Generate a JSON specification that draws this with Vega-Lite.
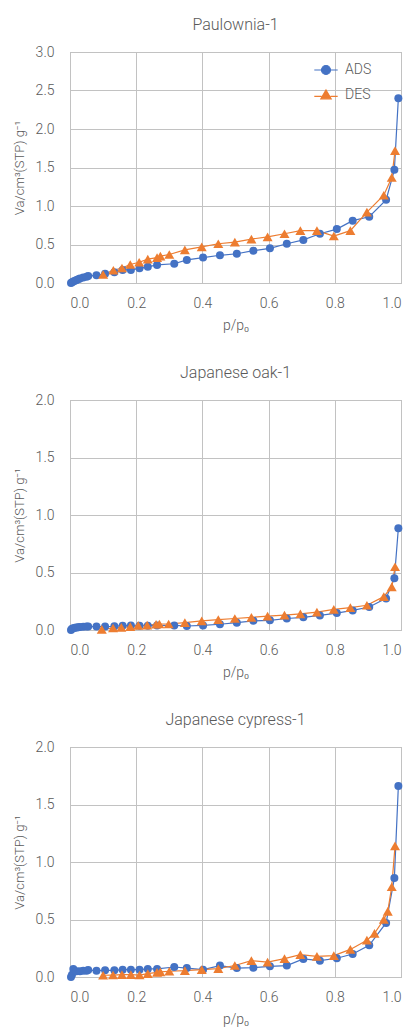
{
  "$schema": "https://vega.github.io/schema/vega-lite/v6.json",
  "padding": {"left": 12, "top": 16, "right": 0, "bottom": 0},
  "spacing": 31,
  "config": {
    "font": "Roboto",
    "view": {"stroke": "#a6a6a6", "strokeWidth": 1},
    "axis": {"grid": true, "gridColor": "#c2c2c2", "gridWidth": 1, "domain": false, "ticks": false, "labelFont": "Roboto", "labelFontSize": 14, "labelFontWeight": 300, "labelColor": "#595959", "titleFont": "Roboto", "titleFontSize": 13, "titleFontWeight": 300, "titleColor": "#595959"},
    "axisX": {"labelPadding": 13, "titlePadding": 8, "titleFontSize": 14},
    "axisY": {"labelPadding": 16, "titlePadding": 9},
    "title": {"fontSize": 16, "fontWeight": 300, "color": "#595959", "font": "Roboto", "offset": 12}
  },
  "datasets": {
    "iso": [
      {"sample": "Paulownia-1", "series": "ADS", "p": 0.003, "v": 0.0},
      {"sample": "Paulownia-1", "series": "ADS", "p": 0.006, "v": 0.01},
      {"sample": "Paulownia-1", "series": "ADS", "p": 0.01, "v": 0.02},
      {"sample": "Paulownia-1", "series": "ADS", "p": 0.015, "v": 0.03},
      {"sample": "Paulownia-1", "series": "ADS", "p": 0.02, "v": 0.04},
      {"sample": "Paulownia-1", "series": "ADS", "p": 0.025, "v": 0.05},
      {"sample": "Paulownia-1", "series": "ADS", "p": 0.03, "v": 0.06},
      {"sample": "Paulownia-1", "series": "ADS", "p": 0.04, "v": 0.07},
      {"sample": "Paulownia-1", "series": "ADS", "p": 0.05, "v": 0.08},
      {"sample": "Paulownia-1", "series": "ADS", "p": 0.055, "v": 0.09},
      {"sample": "Paulownia-1", "series": "ADS", "p": 0.08, "v": 0.1},
      {"sample": "Paulownia-1", "series": "ADS", "p": 0.106, "v": 0.12},
      {"sample": "Paulownia-1", "series": "ADS", "p": 0.134, "v": 0.14},
      {"sample": "Paulownia-1", "series": "ADS", "p": 0.159, "v": 0.17},
      {"sample": "Paulownia-1", "series": "ADS", "p": 0.184, "v": 0.17},
      {"sample": "Paulownia-1", "series": "ADS", "p": 0.21, "v": 0.19},
      {"sample": "Paulownia-1", "series": "ADS", "p": 0.235, "v": 0.21},
      {"sample": "Paulownia-1", "series": "ADS", "p": 0.263, "v": 0.235},
      {"sample": "Paulownia-1", "series": "ADS", "p": 0.315, "v": 0.25},
      {"sample": "Paulownia-1", "series": "ADS", "p": 0.353, "v": 0.3},
      {"sample": "Paulownia-1", "series": "ADS", "p": 0.402, "v": 0.33},
      {"sample": "Paulownia-1", "series": "ADS", "p": 0.453, "v": 0.36},
      {"sample": "Paulownia-1", "series": "ADS", "p": 0.504, "v": 0.38},
      {"sample": "Paulownia-1", "series": "ADS", "p": 0.554, "v": 0.42},
      {"sample": "Paulownia-1", "series": "ADS", "p": 0.604, "v": 0.45},
      {"sample": "Paulownia-1", "series": "ADS", "p": 0.655, "v": 0.51},
      {"sample": "Paulownia-1", "series": "ADS", "p": 0.705, "v": 0.56},
      {"sample": "Paulownia-1", "series": "ADS", "p": 0.755, "v": 0.64},
      {"sample": "Paulownia-1", "series": "ADS", "p": 0.806, "v": 0.7},
      {"sample": "Paulownia-1", "series": "ADS", "p": 0.854, "v": 0.81},
      {"sample": "Paulownia-1", "series": "ADS", "p": 0.904, "v": 0.86},
      {"sample": "Paulownia-1", "series": "ADS", "p": 0.955, "v": 1.08},
      {"sample": "Paulownia-1", "series": "ADS", "p": 0.98, "v": 1.47},
      {"sample": "Paulownia-1", "series": "ADS", "p": 0.992, "v": 2.4},
      {"sample": "Paulownia-1", "series": "DES", "p": 0.1, "v": 0.11},
      {"sample": "Paulownia-1", "series": "DES", "p": 0.131, "v": 0.165},
      {"sample": "Paulownia-1", "series": "DES", "p": 0.157, "v": 0.195},
      {"sample": "Paulownia-1", "series": "DES", "p": 0.182, "v": 0.24},
      {"sample": "Paulownia-1", "series": "DES", "p": 0.209, "v": 0.27},
      {"sample": "Paulownia-1", "series": "DES", "p": 0.235, "v": 0.31},
      {"sample": "Paulownia-1", "series": "DES", "p": 0.263, "v": 0.33},
      {"sample": "Paulownia-1", "series": "DES", "p": 0.273, "v": 0.35},
      {"sample": "Paulownia-1", "series": "DES", "p": 0.3, "v": 0.37},
      {"sample": "Paulownia-1", "series": "DES", "p": 0.347, "v": 0.43},
      {"sample": "Paulownia-1", "series": "DES", "p": 0.398, "v": 0.47},
      {"sample": "Paulownia-1", "series": "DES", "p": 0.448, "v": 0.51},
      {"sample": "Paulownia-1", "series": "DES", "p": 0.498, "v": 0.53},
      {"sample": "Paulownia-1", "series": "DES", "p": 0.548, "v": 0.57},
      {"sample": "Paulownia-1", "series": "DES", "p": 0.597, "v": 0.6},
      {"sample": "Paulownia-1", "series": "DES", "p": 0.648, "v": 0.64},
      {"sample": "Paulownia-1", "series": "DES", "p": 0.696, "v": 0.68},
      {"sample": "Paulownia-1", "series": "DES", "p": 0.746, "v": 0.68},
      {"sample": "Paulownia-1", "series": "DES", "p": 0.797, "v": 0.61},
      {"sample": "Paulownia-1", "series": "DES", "p": 0.847, "v": 0.68},
      {"sample": "Paulownia-1", "series": "DES", "p": 0.897, "v": 0.92},
      {"sample": "Paulownia-1", "series": "DES", "p": 0.948, "v": 1.14},
      {"sample": "Paulownia-1", "series": "DES", "p": 0.972, "v": 1.37},
      {"sample": "Paulownia-1", "series": "DES", "p": 0.982, "v": 1.72},

      {"sample": "Japanese oak-1", "series": "ADS", "p": 0.003, "v": 0.0},
      {"sample": "Japanese oak-1", "series": "ADS", "p": 0.006, "v": 0.01},
      {"sample": "Japanese oak-1", "series": "ADS", "p": 0.01, "v": 0.015},
      {"sample": "Japanese oak-1", "series": "ADS", "p": 0.015, "v": 0.02},
      {"sample": "Japanese oak-1", "series": "ADS", "p": 0.02, "v": 0.022},
      {"sample": "Japanese oak-1", "series": "ADS", "p": 0.025, "v": 0.025},
      {"sample": "Japanese oak-1", "series": "ADS", "p": 0.03, "v": 0.027},
      {"sample": "Japanese oak-1", "series": "ADS", "p": 0.04, "v": 0.028},
      {"sample": "Japanese oak-1", "series": "ADS", "p": 0.05, "v": 0.03},
      {"sample": "Japanese oak-1", "series": "ADS", "p": 0.055, "v": 0.03},
      {"sample": "Japanese oak-1", "series": "ADS", "p": 0.08, "v": 0.03},
      {"sample": "Japanese oak-1", "series": "ADS", "p": 0.106, "v": 0.03},
      {"sample": "Japanese oak-1", "series": "ADS", "p": 0.134, "v": 0.032},
      {"sample": "Japanese oak-1", "series": "ADS", "p": 0.159, "v": 0.038},
      {"sample": "Japanese oak-1", "series": "ADS", "p": 0.184, "v": 0.04},
      {"sample": "Japanese oak-1", "series": "ADS", "p": 0.21, "v": 0.038},
      {"sample": "Japanese oak-1", "series": "ADS", "p": 0.235, "v": 0.038},
      {"sample": "Japanese oak-1", "series": "ADS", "p": 0.263, "v": 0.04},
      {"sample": "Japanese oak-1", "series": "ADS", "p": 0.315, "v": 0.04},
      {"sample": "Japanese oak-1", "series": "ADS", "p": 0.353, "v": 0.035},
      {"sample": "Japanese oak-1", "series": "ADS", "p": 0.402, "v": 0.04},
      {"sample": "Japanese oak-1", "series": "ADS", "p": 0.453, "v": 0.05},
      {"sample": "Japanese oak-1", "series": "ADS", "p": 0.504, "v": 0.064},
      {"sample": "Japanese oak-1", "series": "ADS", "p": 0.554, "v": 0.08},
      {"sample": "Japanese oak-1", "series": "ADS", "p": 0.604, "v": 0.084},
      {"sample": "Japanese oak-1", "series": "ADS", "p": 0.655, "v": 0.1},
      {"sample": "Japanese oak-1", "series": "ADS", "p": 0.705, "v": 0.11},
      {"sample": "Japanese oak-1", "series": "ADS", "p": 0.755, "v": 0.127},
      {"sample": "Japanese oak-1", "series": "ADS", "p": 0.806, "v": 0.147},
      {"sample": "Japanese oak-1", "series": "ADS", "p": 0.854, "v": 0.17},
      {"sample": "Japanese oak-1", "series": "ADS", "p": 0.904, "v": 0.2},
      {"sample": "Japanese oak-1", "series": "ADS", "p": 0.955, "v": 0.275},
      {"sample": "Japanese oak-1", "series": "ADS", "p": 0.98, "v": 0.45},
      {"sample": "Japanese oak-1", "series": "ADS", "p": 0.992, "v": 0.885},
      {"sample": "Japanese oak-1", "series": "DES", "p": 0.096, "v": 0.006},
      {"sample": "Japanese oak-1", "series": "DES", "p": 0.13, "v": 0.017},
      {"sample": "Japanese oak-1", "series": "DES", "p": 0.155, "v": 0.023},
      {"sample": "Japanese oak-1", "series": "DES", "p": 0.182, "v": 0.03},
      {"sample": "Japanese oak-1", "series": "DES", "p": 0.206, "v": 0.04},
      {"sample": "Japanese oak-1", "series": "DES", "p": 0.233, "v": 0.043},
      {"sample": "Japanese oak-1", "series": "DES", "p": 0.26, "v": 0.05},
      {"sample": "Japanese oak-1", "series": "DES", "p": 0.27, "v": 0.052},
      {"sample": "Japanese oak-1", "series": "DES", "p": 0.298, "v": 0.052},
      {"sample": "Japanese oak-1", "series": "DES", "p": 0.347, "v": 0.064},
      {"sample": "Japanese oak-1", "series": "DES", "p": 0.398, "v": 0.08},
      {"sample": "Japanese oak-1", "series": "DES", "p": 0.448, "v": 0.09},
      {"sample": "Japanese oak-1", "series": "DES", "p": 0.498, "v": 0.1},
      {"sample": "Japanese oak-1", "series": "DES", "p": 0.548, "v": 0.11},
      {"sample": "Japanese oak-1", "series": "DES", "p": 0.597, "v": 0.12},
      {"sample": "Japanese oak-1", "series": "DES", "p": 0.648, "v": 0.13},
      {"sample": "Japanese oak-1", "series": "DES", "p": 0.696, "v": 0.14},
      {"sample": "Japanese oak-1", "series": "DES", "p": 0.746, "v": 0.155},
      {"sample": "Japanese oak-1", "series": "DES", "p": 0.797, "v": 0.18},
      {"sample": "Japanese oak-1", "series": "DES", "p": 0.847, "v": 0.195},
      {"sample": "Japanese oak-1", "series": "DES", "p": 0.897, "v": 0.215},
      {"sample": "Japanese oak-1", "series": "DES", "p": 0.948, "v": 0.29},
      {"sample": "Japanese oak-1", "series": "DES", "p": 0.972, "v": 0.375},
      {"sample": "Japanese oak-1", "series": "DES", "p": 0.982, "v": 0.55},

      {"sample": "Japanese cypress-1", "series": "ADS", "p": 0.003, "v": 0.0},
      {"sample": "Japanese cypress-1", "series": "ADS", "p": 0.006, "v": 0.02},
      {"sample": "Japanese cypress-1", "series": "ADS", "p": 0.01, "v": 0.07},
      {"sample": "Japanese cypress-1", "series": "ADS", "p": 0.015, "v": 0.05},
      {"sample": "Japanese cypress-1", "series": "ADS", "p": 0.02, "v": 0.05},
      {"sample": "Japanese cypress-1", "series": "ADS", "p": 0.03, "v": 0.05},
      {"sample": "Japanese cypress-1", "series": "ADS", "p": 0.04, "v": 0.055},
      {"sample": "Japanese cypress-1", "series": "ADS", "p": 0.05, "v": 0.055},
      {"sample": "Japanese cypress-1", "series": "ADS", "p": 0.055, "v": 0.06},
      {"sample": "Japanese cypress-1", "series": "ADS", "p": 0.08, "v": 0.055},
      {"sample": "Japanese cypress-1", "series": "ADS", "p": 0.106, "v": 0.058},
      {"sample": "Japanese cypress-1", "series": "ADS", "p": 0.134, "v": 0.058},
      {"sample": "Japanese cypress-1", "series": "ADS", "p": 0.159, "v": 0.064},
      {"sample": "Japanese cypress-1", "series": "ADS", "p": 0.184, "v": 0.064},
      {"sample": "Japanese cypress-1", "series": "ADS", "p": 0.21, "v": 0.064},
      {"sample": "Japanese cypress-1", "series": "ADS", "p": 0.235, "v": 0.07},
      {"sample": "Japanese cypress-1", "series": "ADS", "p": 0.263, "v": 0.07},
      {"sample": "Japanese cypress-1", "series": "ADS", "p": 0.315, "v": 0.087},
      {"sample": "Japanese cypress-1", "series": "ADS", "p": 0.353, "v": 0.078},
      {"sample": "Japanese cypress-1", "series": "ADS", "p": 0.402, "v": 0.064},
      {"sample": "Japanese cypress-1", "series": "ADS", "p": 0.453, "v": 0.099},
      {"sample": "Japanese cypress-1", "series": "ADS", "p": 0.504, "v": 0.078},
      {"sample": "Japanese cypress-1", "series": "ADS", "p": 0.554, "v": 0.081},
      {"sample": "Japanese cypress-1", "series": "ADS", "p": 0.604, "v": 0.093},
      {"sample": "Japanese cypress-1", "series": "ADS", "p": 0.655, "v": 0.099},
      {"sample": "Japanese cypress-1", "series": "ADS", "p": 0.705, "v": 0.157},
      {"sample": "Japanese cypress-1", "series": "ADS", "p": 0.755, "v": 0.142},
      {"sample": "Japanese cypress-1", "series": "ADS", "p": 0.806, "v": 0.163},
      {"sample": "Japanese cypress-1", "series": "ADS", "p": 0.854, "v": 0.2},
      {"sample": "Japanese cypress-1", "series": "ADS", "p": 0.904, "v": 0.276},
      {"sample": "Japanese cypress-1", "series": "ADS", "p": 0.955, "v": 0.47},
      {"sample": "Japanese cypress-1", "series": "ADS", "p": 0.98, "v": 0.86},
      {"sample": "Japanese cypress-1", "series": "ADS", "p": 0.992, "v": 1.66},
      {"sample": "Japanese cypress-1", "series": "DES", "p": 0.1, "v": 0.015},
      {"sample": "Japanese cypress-1", "series": "DES", "p": 0.13, "v": 0.017},
      {"sample": "Japanese cypress-1", "series": "DES", "p": 0.157, "v": 0.02},
      {"sample": "Japanese cypress-1", "series": "DES", "p": 0.184, "v": 0.02},
      {"sample": "Japanese cypress-1", "series": "DES", "p": 0.21, "v": 0.017},
      {"sample": "Japanese cypress-1", "series": "DES", "p": 0.235, "v": 0.03},
      {"sample": "Japanese cypress-1", "series": "DES", "p": 0.263, "v": 0.04},
      {"sample": "Japanese cypress-1", "series": "DES", "p": 0.273, "v": 0.044},
      {"sample": "Japanese cypress-1", "series": "DES", "p": 0.3, "v": 0.05},
      {"sample": "Japanese cypress-1", "series": "DES", "p": 0.347, "v": 0.055},
      {"sample": "Japanese cypress-1", "series": "DES", "p": 0.398, "v": 0.064},
      {"sample": "Japanese cypress-1", "series": "DES", "p": 0.448, "v": 0.073},
      {"sample": "Japanese cypress-1", "series": "DES", "p": 0.498, "v": 0.1},
      {"sample": "Japanese cypress-1", "series": "DES", "p": 0.548, "v": 0.142},
      {"sample": "Japanese cypress-1", "series": "DES", "p": 0.597, "v": 0.13},
      {"sample": "Japanese cypress-1", "series": "DES", "p": 0.648, "v": 0.16},
      {"sample": "Japanese cypress-1", "series": "DES", "p": 0.696, "v": 0.195},
      {"sample": "Japanese cypress-1", "series": "DES", "p": 0.746, "v": 0.18},
      {"sample": "Japanese cypress-1", "series": "DES", "p": 0.797, "v": 0.186},
      {"sample": "Japanese cypress-1", "series": "DES", "p": 0.847, "v": 0.24},
      {"sample": "Japanese cypress-1", "series": "DES", "p": 0.897, "v": 0.32},
      {"sample": "Japanese cypress-1", "series": "DES", "p": 0.92, "v": 0.38},
      {"sample": "Japanese cypress-1", "series": "DES", "p": 0.948, "v": 0.5},
      {"sample": "Japanese cypress-1", "series": "DES", "p": 0.96, "v": 0.57},
      {"sample": "Japanese cypress-1", "series": "DES", "p": 0.972, "v": 0.785},
      {"sample": "Japanese cypress-1", "series": "DES", "p": 0.982, "v": 1.14}
    ]
  },
  "vconcat": [
    {
      "title": "Paulownia-1",
      "width": 331, "height": 231,
      "data": {"name": "iso"},
      "transform": [{"filter": "datum.sample === 'Paulownia-1'"}],
      "encoding": {
        "x": {"field": "p", "type": "quantitative", "scale": {"domain": [0, 1]}, "axis": {"values": [0, 0.2, 0.4, 0.6, 0.8, 1.0], "format": ".1f", "title": "p/p₀"}},
        "y": {"field": "v", "type": "quantitative", "scale": {"domain": [0, 3]}, "axis": {"values": [0, 0.5, 1.0, 1.5, 2.0, 2.5, 3.0], "format": ".1f", "title": "Va/cm³(STP) g⁻¹"}},
        "color": {"field": "series", "type": "nominal", "scale": {"domain": ["ADS", "DES"], "range": ["#4472C4", "#ED7D31"]},
          "legend": {"title": null, "orient": "none", "legendX": 249, "legendY": 11, "padding": 0, "symbolSize": 81, "labelOffset": 12, "rowPadding": 10, "labelFontSize": 14, "labelFontWeight": 300, "labelColor": "#595959", "labelFont": "Roboto",
            "encoding": {"symbols": {
              "shape": {"value": {"expr": "datum.value === 'ADS' ? 'M-2.6,0H-1M1,0H2.6M1,0A1,1 0 1,1 -1,0A1,1 0 1,1 1,0Z' : 'M-2.6,0.3H-1M1,0.3H2.6M0,-1.1L1.15,0.85L-1.15,0.85Z'"}},
              "stroke": {"value": {"expr": "datum.value === 'ADS' ? '#4472C4' : '#ED7D31'"}},
              "fill": {"value": {"expr": "datum.value === 'ADS' ? '#4472C4' : '#ED7D31'"}},
              "strokeWidth": {"value": 1.2}, "opacity": {"value": 1}, "fillOpacity": {"value": 1}}}}}
      },
      "layer": [
        {"mark": {"type": "line", "strokeWidth": 1.2}},
        {"mark": {"type": "point", "filled": true, "opacity": 1},
         "encoding": {
           "shape": {"field": "series", "type": "nominal", "scale": {"domain": ["DES", "ADS"], "range": ["triangle-up", "circle"]}, "legend": null},
           "size": {"field": "series", "type": "nominal", "scale": {"domain": ["DES", "ADS"], "range": [100, 64]}, "legend": null}}}
      ]
    },
    {
      "title": "Japanese oak-1",
      "width": 331, "height": 230,
      "data": {"name": "iso"},
      "transform": [{"filter": "datum.sample === 'Japanese oak-1'"}],
      "encoding": {
        "x": {"field": "p", "type": "quantitative", "scale": {"domain": [0, 1]}, "axis": {"values": [0, 0.2, 0.4, 0.6, 0.8, 1.0], "format": ".1f", "title": "p/p₀"}},
        "y": {"field": "v", "type": "quantitative", "scale": {"domain": [0, 2]}, "axis": {"values": [0, 0.5, 1.0, 1.5, 2.0], "format": ".1f", "title": "Va/cm³(STP) g⁻¹"}},
        "color": {"field": "series", "type": "nominal", "scale": {"domain": ["ADS", "DES"], "range": ["#4472C4", "#ED7D31"]},
          "legend": {"title": null, "orient": "none", "legendX": 249, "legendY": 11, "padding": 0, "symbolSize": 81, "labelOffset": 12, "rowPadding": 10, "labelFontSize": 14, "labelFontWeight": 300, "labelColor": "#595959", "labelFont": "Roboto",
            "encoding": {"symbols": {
              "shape": {"value": {"expr": "datum.value === 'ADS' ? 'M-2.6,0H-1M1,0H2.6M1,0A1,1 0 1,1 -1,0A1,1 0 1,1 1,0Z' : 'M-2.6,0.3H-1M1,0.3H2.6M0,-1.1L1.15,0.85L-1.15,0.85Z'"}},
              "stroke": {"value": {"expr": "datum.value === 'ADS' ? '#4472C4' : '#ED7D31'"}},
              "fill": {"value": {"expr": "datum.value === 'ADS' ? '#4472C4' : '#ED7D31'"}},
              "strokeWidth": {"value": 1.2}, "opacity": {"value": 1}, "fillOpacity": {"value": 1}}}}}
      },
      "layer": [
        {"mark": {"type": "line", "strokeWidth": 1.2}},
        {"mark": {"type": "point", "filled": true, "opacity": 1},
         "encoding": {
           "shape": {"field": "series", "type": "nominal", "scale": {"domain": ["DES", "ADS"], "range": ["triangle-up", "circle"]}, "legend": null},
           "size": {"field": "series", "type": "nominal", "scale": {"domain": ["DES", "ADS"], "range": [100, 64]}, "legend": null}}}
      ]
    },
    {
      "title": "Japanese cypress-1",
      "width": 331, "height": 230,
      "data": {"name": "iso"},
      "transform": [{"filter": "datum.sample === 'Japanese cypress-1'"}],
      "encoding": {
        "x": {"field": "p", "type": "quantitative", "scale": {"domain": [0, 1]}, "axis": {"values": [0, 0.2, 0.4, 0.6, 0.8, 1.0], "format": ".1f", "title": "p/p₀"}},
        "y": {"field": "v", "type": "quantitative", "scale": {"domain": [0, 2]}, "axis": {"values": [0, 0.5, 1.0, 1.5, 2.0], "format": ".1f", "title": "Va/cm³(STP) g⁻¹"}},
        "color": {"field": "series", "type": "nominal", "scale": {"domain": ["ADS", "DES"], "range": ["#4472C4", "#ED7D31"]},
          "legend": {"title": null, "orient": "none", "legendX": 249, "legendY": 11, "padding": 0, "symbolSize": 81, "labelOffset": 12, "rowPadding": 10, "labelFontSize": 14, "labelFontWeight": 300, "labelColor": "#595959", "labelFont": "Roboto",
            "encoding": {"symbols": {
              "shape": {"value": {"expr": "datum.value === 'ADS' ? 'M-2.6,0H-1M1,0H2.6M1,0A1,1 0 1,1 -1,0A1,1 0 1,1 1,0Z' : 'M-2.6,0.3H-1M1,0.3H2.6M0,-1.1L1.15,0.85L-1.15,0.85Z'"}},
              "stroke": {"value": {"expr": "datum.value === 'ADS' ? '#4472C4' : '#ED7D31'"}},
              "fill": {"value": {"expr": "datum.value === 'ADS' ? '#4472C4' : '#ED7D31'"}},
              "strokeWidth": {"value": 1.2}, "opacity": {"value": 1}, "fillOpacity": {"value": 1}}}}}
      },
      "layer": [
        {"mark": {"type": "line", "strokeWidth": 1.2}},
        {"mark": {"type": "point", "filled": true, "opacity": 1},
         "encoding": {
           "shape": {"field": "series", "type": "nominal", "scale": {"domain": ["DES", "ADS"], "range": ["triangle-up", "circle"]}, "legend": null},
           "size": {"field": "series", "type": "nominal", "scale": {"domain": ["DES", "ADS"], "range": [100, 64]}, "legend": null}}}
      ]
    }
  ]
}
